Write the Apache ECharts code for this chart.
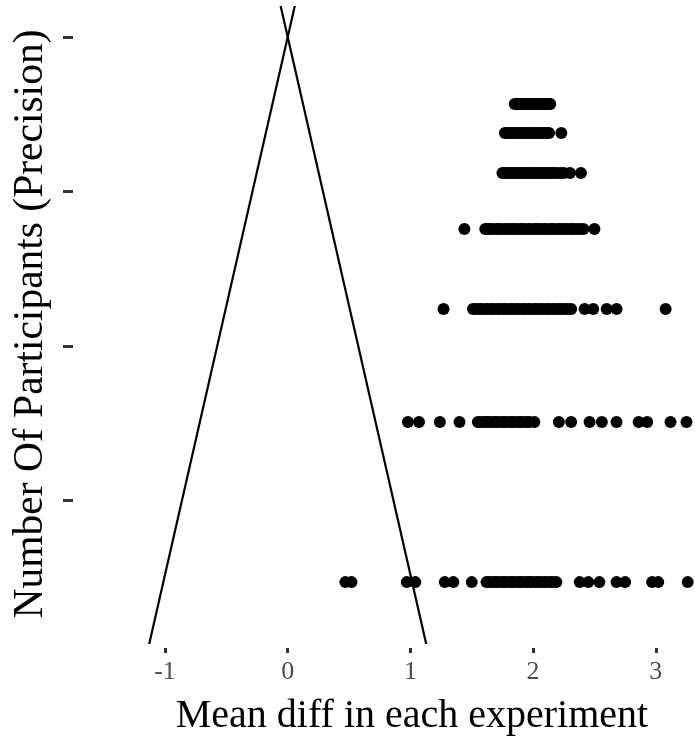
<!DOCTYPE html>
<html>
<head>
<meta charset="utf-8">
<script src="https://cdn.jsdelivr.net/npm/echarts@6/dist/echarts.min.js"></script>
<style>html,body{margin:0;padding:0;background:#fff}#c{width:695px;height:738px}</style>
</head>
<body>
<div id="c"></div>
<script>
// Tick values
const xTicks = [-1, 0, 1, 2, 3];
const yTicks = [0, 1, 2, 3];
// Row levels (precision, inverted axis units)
const rowY = [0.434, 0.621, 0.880, 1.243, 1.761, 2.492, 3.528];
// Mean diff per experiment, for each row
const row1X = [1.85,1.87,1.88,1.90,1.92,1.93,1.95,1.97,1.98,2.00,2.01,2.03,2.05,2.06,2.08,2.10,2.11,2.13,2.14];
const row2X = [1.77,1.79,1.81,1.83,1.85,1.87,1.89,1.91,1.93,1.95,1.97,1.99,2.01,2.03,2.05,2.07,2.09,2.11,2.13,2.23];
const row3X = [1.75,1.77,1.79,1.81,1.83,1.85,1.87,1.89,1.91,1.93,1.95,1.97,1.99,2.01,2.03,2.05,2.07,2.09,2.11,2.13,2.15,2.17,2.19,2.22,2.25,2.30,2.39];
const row4X = [1.44,1.61,1.63,1.65,1.67,1.70,1.72,1.74,1.77,1.79,1.82,1.84,1.86,1.89,1.91,1.93,1.96,1.98,2.01,2.03,2.05,2.08,2.10,2.13,2.15,2.17,2.20,2.22,2.25,2.27,2.30,2.32,2.35,2.38,2.41,2.50];
const row5X = [1.27,1.51,1.53,1.56,1.58,1.61,1.63,1.66,1.68,1.71,1.73,1.76,1.78,1.81,1.83,1.86,1.88,1.91,1.93,1.96,1.98,2.01,2.03,2.06,2.08,2.11,2.13,2.16,2.18,2.21,2.23,2.26,2.28,2.31,2.42,2.49,2.60,2.68,3.08];
const row6X = [0.98,1.07,1.24,1.40,1.55,1.57,1.60,1.62,1.64,1.67,1.69,1.71,1.74,1.76,1.78,1.81,1.83,1.85,1.88,1.90,1.92,1.95,1.97,2.01,2.21,2.31,2.46,2.56,2.68,2.86,2.93,3.12,3.25];
const row7X = [0.47,0.52,0.97,1.04,1.28,1.35,1.50,1.62,1.64,1.67,1.69,1.71,1.74,1.76,1.78,1.81,1.83,1.85,1.88,1.90,1.92,1.95,1.97,1.99,2.02,2.04,2.06,2.09,2.11,2.14,2.16,2.19,2.38,2.45,2.54,2.68,2.75,2.97,3.02,3.26];
// Funnel boundary lines (endpoints)
const funnelLeft = [[-1.207, 4.2], [0.115, -0.4]];
const funnelRight = [[1.207, 4.2], [-0.115, -0.4]];

const rows = [row1X, row2X, row3X, row4X, row5X, row6X, row7X];
const points = [];
rows.forEach((r, i) => r.forEach(x => points.push([x, rowY[i]])));

const chart = echarts.init(document.getElementById('c'), null, {renderer: 'canvas'});
const serif = '"Liberation Serif", "Times New Roman", serif';
chart.setOption({
  animation: false,
  backgroundColor: '#ffffff',
  grid: {left: 73, right: 0, top: 7, bottom: 95, containLabel: false},
  xAxis: {
    type: 'value', min: -1.750, max: 3.3195,
    offset: 5,
    axisLine: {show: false, onZero: false},
    splitLine: {show: false},
    axisTick: {show: true, customValues: xTicks, length: 5, lineStyle: {color: '#333333', width: 3}},
    axisLabel: {show: true, customValues: xTicks, margin: 11, color: '#4d4d4d', fontSize: 26, fontFamily: serif,
      formatter: v => String(v)}
  },
  yAxis: {
    type: 'value', inverse: true, min: -0.194, max: 3.922,
    axisLine: {show: false, onZero: false},
    splitLine: {show: false},
    axisTick: {show: true, customValues: yTicks, length: 10, lineStyle: {color: '#333333', width: 3}},
    axisLabel: {show: false, customValues: yTicks}
  },
  series: [
    {type: 'line', data: funnelLeft, symbol: 'none', clip: true, lineStyle: {color: '#000', width: 2.2}},
    {type: 'line', data: funnelRight, symbol: 'none', clip: true, lineStyle: {color: '#000', width: 2.2}},
    {type: 'scatter', data: points, symbolSize: 12, clip: false, itemStyle: {color: '#000', opacity: 1}}
  ],
  graphic: [
    {type: 'text', x: 412, y: 716, style: {text: 'Mean diff in each experiment', font: '40px ' + serif, fill: '#000', textAlign: 'center', textVerticalAlign: 'middle'}},
    {type: 'text', x: 31, y: 324, rotation: Math.PI / 2, style: {text: 'Number Of Participants (Precision)', font: '41.5px ' + serif, fill: '#000', textAlign: 'center', textVerticalAlign: 'middle'}}
  ]
});
</script>
</body>
</html>
